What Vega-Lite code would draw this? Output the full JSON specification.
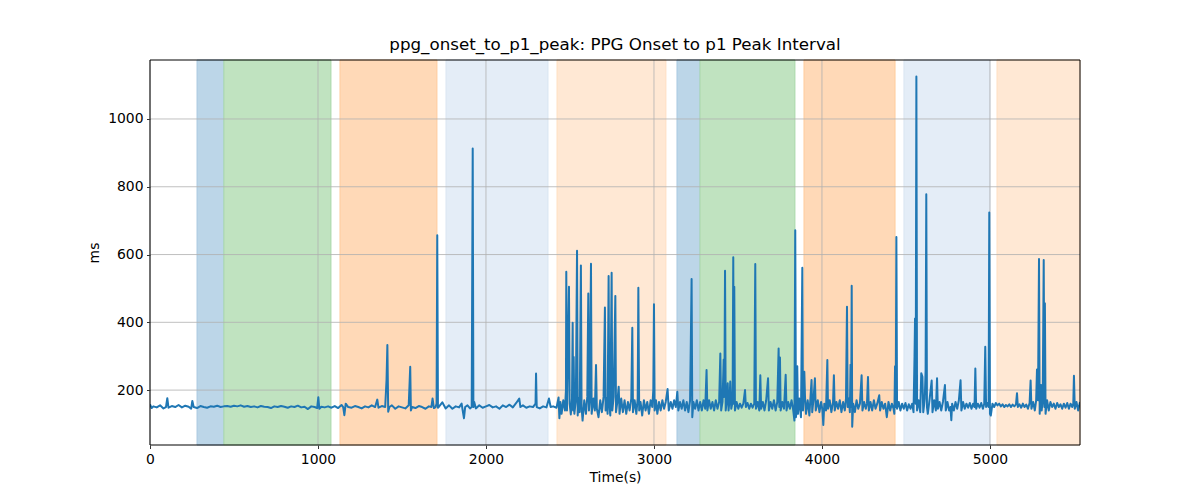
{
  "$schema": "https://vega.github.io/schema/vega-lite/v6.json",
  "autosize": {"type": "none"},
  "width": 930,
  "height": 385,
  "padding": {"left": 150, "top": 60, "right": 120, "bottom": 55},
  "background": "white",
  "config": {
    "font": "DejaVu Sans",
    "view": {"stroke": null},
    "axis": {
      "grid": false,
      "domain": false,
      "tickColor": "black",
      "tickSize": 3.5,
      "tickWidth": 0.8,
      "labelFontSize": 13.9,
      "labelColor": "black",
      "labelPadding": 3.5,
      "labelFlush": false,
      "titleFontSize": 13.9,
      "titleFontWeight": "normal",
      "titleColor": "black"
    },
    "title": {"fontSize": 16.7, "fontWeight": "normal", "color": "black", "offset": 6}
  },
  "title": "ppg_onset_to_p1_peak: PPG Onset to p1 Peak Interval",
  "datasets": {
    "bands": [
      {"s": 280, "e": 440, "k": "A"},
      {"s": 440, "e": 1077, "k": "B"},
      {"s": 1131, "e": 1708, "k": "C"},
      {"s": 1762, "e": 2369, "k": "D"},
      {"s": 2423, "e": 3071, "k": "E"},
      {"s": 3137, "e": 3274, "k": "A"},
      {"s": 3274, "e": 3839, "k": "B"},
      {"s": 3893, "e": 4435, "k": "C"},
      {"s": 4488, "e": 5000, "k": "D"},
      {"s": 5042, "e": 5536, "k": "E"}
    ],
    "frame": [{"x0": 0, "x1": 5536, "y0": 38, "y1": 1174}],
    "gx": [{"x": 0}, {"x": 1000}, {"x": 2000}, {"x": 3000}, {"x": 4000}, {"x": 5000}],
    "gy": [{"y": 200}, {"y": 400}, {"y": 600}, {"y": 800}, {"y": 1000}],
    "series": [
      {"t":0,"v":158},{"t":10,"v":147},{"t":20,"v":152},{"t":40,"v":149},{"t":60,"v":155},{"t":80,"v":146},{"t":95,"v":150},{"t":103,"v":176},{"t":110,"v":148},{"t":130,"v":153},{"t":150,"v":150},{"t":170,"v":156},{"t":190,"v":149},{"t":210,"v":154},{"t":230,"v":151},{"t":245,"v":145},{"t":252,"v":168},{"t":260,"v":150},{"t":280,"v":147},{"t":300,"v":153},{"t":320,"v":150},{"t":340,"v":148},{"t":360,"v":152},{"t":380,"v":151},{"t":400,"v":154},{"t":420,"v":150},{"t":440,"v":152},{"t":460,"v":153},{"t":480,"v":151},{"t":500,"v":154},{"t":520,"v":152},{"t":540,"v":155},{"t":560,"v":151},{"t":580,"v":153},{"t":600,"v":150},{"t":620,"v":152},{"t":640,"v":149},{"t":660,"v":153},{"t":680,"v":151},{"t":700,"v":150},{"t":720,"v":147},{"t":740,"v":152},{"t":760,"v":150},{"t":780,"v":153},{"t":800,"v":151},{"t":820,"v":148},{"t":840,"v":152},{"t":860,"v":150},{"t":880,"v":154},{"t":900,"v":149},{"t":920,"v":151},{"t":940,"v":144},{"t":960,"v":152},{"t":980,"v":150},{"t":995,"v":147},{"t":1002,"v":179},{"t":1008,"v":145},{"t":1020,"v":151},{"t":1040,"v":149},{"t":1060,"v":152},{"t":1080,"v":148},{"t":1100,"v":153},{"t":1120,"v":147},{"t":1140,"v":156},{"t":1150,"v":150},{"t":1157,"v":126},{"t":1165,"v":160},{"t":1180,"v":150},{"t":1200,"v":148},{"t":1220,"v":153},{"t":1240,"v":150},{"t":1260,"v":146},{"t":1280,"v":152},{"t":1300,"v":149},{"t":1320,"v":155},{"t":1340,"v":150},{"t":1353,"v":172},{"t":1360,"v":148},{"t":1380,"v":153},{"t":1400,"v":150},{"t":1408,"v":230},{"t":1413,"v":333},{"t":1418,"v":136},{"t":1425,"v":150},{"t":1440,"v":155},{"t":1460,"v":145},{"t":1480,"v":152},{"t":1500,"v":149},{"t":1520,"v":146},{"t":1540,"v":155},{"t":1546,"v":230},{"t":1549,"v":269},{"t":1553,"v":140},{"t":1560,"v":150},{"t":1580,"v":147},{"t":1600,"v":153},{"t":1620,"v":150},{"t":1640,"v":145},{"t":1660,"v":152},{"t":1675,"v":150},{"t":1682,"v":175},{"t":1690,"v":147},{"t":1700,"v":150},{"t":1706,"v":160},{"t":1710,"v":657},{"t":1714,"v":148},{"t":1720,"v":151},{"t":1740,"v":164},{"t":1760,"v":146},{"t":1780,"v":155},{"t":1800,"v":145},{"t":1820,"v":152},{"t":1840,"v":149},{"t":1855,"v":160},{"t":1862,"v":138},{"t":1869,"v":117},{"t":1876,"v":150},{"t":1890,"v":155},{"t":1905,"v":146},{"t":1915,"v":150},{"t":1921,"v":913},{"t":1925,"v":150},{"t":1930,"v":165},{"t":1940,"v":146},{"t":1960,"v":155},{"t":1980,"v":148},{"t":2000,"v":152},{"t":2020,"v":156},{"t":2040,"v":149},{"t":2060,"v":152},{"t":2080,"v":145},{"t":2100,"v":155},{"t":2120,"v":150},{"t":2140,"v":157},{"t":2160,"v":149},{"t":2180,"v":162},{"t":2198,"v":175},{"t":2205,"v":150},{"t":2220,"v":155},{"t":2240,"v":148},{"t":2260,"v":152},{"t":2280,"v":150},{"t":2295,"v":160},{"t":2298,"v":249},{"t":2302,"v":150},{"t":2320,"v":146},{"t":2340,"v":152},{"t":2360,"v":149},{"t":2375,"v":175},{"t":2385,"v":150},{"t":2400,"v":152},{"t":2420,"v":148},{"t":2432,"v":178},{"t":2437,"v":117},{"t":2443,"v":165},
      {"t":2450,"v":130},{"t":2460,"v":170},{"t":2470,"v":140},{"t":2476,"v":200},{"t":2478,"v":549},{"t":2482,"v":140},{"t":2494,"v":505},{"t":2498,"v":160},{"t":2505,"v":128},{"t":2512,"v":175},{"t":2516,"v":399},{"t":2519,"v":140},{"t":2522,"v":298},{"t":2526,"v":130},{"t":2535,"v":170},{"t":2542,"v":611},{"t":2546,"v":125},{"t":2552,"v":175},{"t":2558,"v":135},{"t":2565,"v":568},{"t":2569,"v":150},{"t":2575,"v":110},{"t":2585,"v":170},{"t":2595,"v":130},{"t":2603,"v":180},{"t":2609,"v":485},{"t":2613,"v":140},{"t":2618,"v":170},{"t":2625,"v":573},{"t":2629,"v":130},{"t":2640,"v":175},{"t":2648,"v":140},{"t":2655,"v":274},{"t":2660,"v":145},{"t":2670,"v":120},{"t":2680,"v":170},{"t":2690,"v":135},{"t":2700,"v":180},{"t":2708,"v":444},{"t":2712,"v":140},{"t":2718,"v":175},{"t":2724,"v":130},{"t":2730,"v":537},{"t":2734,"v":160},{"t":2740,"v":125},{"t":2748,"v":546},{"t":2752,"v":140},{"t":2760,"v":180},{"t":2770,"v":478},{"t":2774,"v":135},{"t":2782,"v":165},{"t":2790,"v":210},{"t":2795,"v":130},{"t":2805,"v":175},{"t":2815,"v":135},{"t":2825,"v":170},{"t":2835,"v":130},{"t":2845,"v":165},{"t":2855,"v":140},{"t":2865,"v":175},{"t":2871,"v":384},{"t":2875,"v":135},{"t":2885,"v":170},{"t":2895,"v":130},{"t":2903,"v":175},{"t":2907,"v":502},{"t":2912,"v":140},{"t":2920,"v":165},{"t":2930,"v":125},{"t":2940,"v":170},{"t":2950,"v":140},{"t":2960,"v":165},{"t":2970,"v":130},{"t":2980,"v":170},{"t":2990,"v":150},{"t":2996,"v":200},{"t":3000,"v":453},{"t":3004,"v":140},{"t":3012,"v":170},{"t":3020,"v":130},{"t":3030,"v":165},{"t":3040,"v":140},{"t":3050,"v":170},{"t":3060,"v":145},{"t":3070,"v":165},{"t":3081,"v":203},{"t":3088,"v":140},{"t":3100,"v":165},{"t":3110,"v":145},{"t":3120,"v":170},{"t":3130,"v":150},{"t":3139,"v":195},{"t":3145,"v":140},{"t":3155,"v":165},{"t":3165,"v":145},{"t":3175,"v":170},{"t":3185,"v":140},{"t":3195,"v":165},{"t":3205,"v":135},{"t":3215,"v":170},{"t":3224,"v":528},{"t":3228,"v":120},{"t":3235,"v":165},{"t":3245,"v":145},{"t":3255,"v":170},{"t":3265,"v":140},{"t":3275,"v":165},{"t":3285,"v":140},{"t":3295,"v":170},{"t":3305,"v":145},{"t":3313,"v":259},{"t":3318,"v":140},{"t":3328,"v":170},{"t":3338,"v":145},{"t":3348,"v":165},{"t":3358,"v":140},{"t":3368,"v":170},{"t":3378,"v":145},{"t":3388,"v":165},{"t":3395,"v":308},{"t":3400,"v":140},{"t":3408,"v":165},{"t":3415,"v":290},{"t":3419,"v":180},{"t":3423,"v":552},{"t":3427,"v":140},{"t":3434,"v":170},{"t":3439,"v":220},{"t":3444,"v":140},{"t":3450,"v":170},{"t":3454,"v":225},{"t":3460,"v":145},{"t":3468,"v":165},{"t":3472,"v":592},{"t":3475,"v":160},{"t":3478,"v":505},{"t":3482,"v":140},{"t":3492,"v":165},{"t":3502,"v":145},{"t":3512,"v":160},{"t":3522,"v":148},{"t":3532,"v":160},{"t":3542,"v":200},{"t":3547,"v":150},{"t":3557,"v":162},{"t":3567,"v":145},{"t":3577,"v":160},{"t":3587,"v":148},{"t":3597,"v":160},{"t":3603,"v":572},{"t":3607,"v":145},{"t":3617,"v":165},{"t":3627,"v":140},{"t":3633,"v":244},{"t":3638,"v":145},{"t":3648,"v":165},{"t":3658,"v":140},{"t":3668,"v":170},{"t":3679,"v":235},{"t":3684,"v":140},{"t":3694,"v":165},{"t":3704,"v":145},{"t":3714,"v":170},{"t":3724,"v":140},{"t":3734,"v":165},{"t":3742,"v":323},{"t":3746,"v":150},{"t":3750,"v":296},{"t":3754,"v":140},{"t":3764,"v":165},{"t":3774,"v":145},{"t":3784,"v":245},{"t":3789,"v":140},{"t":3799,"v":165},{"t":3809,"v":145},{"t":3819,"v":170},{"t":3829,"v":140},{"t":3836,"v":110},{"t":3841,"v":672},{"t":3845,"v":120},{"t":3849,"v":140},{"t":3853,"v":270},{"t":3857,"v":130},{"t":3865,"v":175},{"t":3875,"v":120},{"t":3883,"v":561},{"t":3887,"v":140},{"t":3895,"v":254},{"t":3899,"v":180},{"t":3905,"v":130},{"t":3915,"v":170},{"t":3925,"v":125},{"t":3938,"v":230},{"t":3942,"v":135},{"t":3950,"v":175},{"t":3958,"v":235},{"t":3963,"v":140},{"t":3975,"v":170},{"t":3985,"v":135},{"t":3995,"v":165},{"t":4003,"v":140},{"t":4008,"v":97},{"t":4014,"v":160},{"t":4024,"v":140},{"t":4032,"v":289},{"t":4036,"v":145},{"t":4046,"v":170},{"t":4056,"v":135},{"t":4066,"v":165},{"t":4071,"v":244},{"t":4076,"v":140},{"t":4086,"v":165},{"t":4096,"v":145},{"t":4106,"v":170},{"t":4116,"v":135},{"t":4126,"v":165},{"t":4136,"v":140},{"t":4143,"v":175},{"t":4149,"v":446},{"t":4153,"v":150},{"t":4160,"v":175},{"t":4166,"v":135},{"t":4170,"v":275},{"t":4174,"v":150},{"t":4177,"v":508},{"t":4180,"v":92},{"t":4186,"v":160},{"t":4196,"v":135},{"t":4206,"v":170},{"t":4216,"v":145},{"t":4226,"v":160},{"t":4236,"v":244},{"t":4241,"v":140},{"t":4251,"v":165},{"t":4261,"v":145},{"t":4268,"v":160},{"t":4274,"v":239},{"t":4279,"v":140},{"t":4289,"v":165},{"t":4299,"v":140},{"t":4309,"v":170},{"t":4319,"v":145},{"t":4329,"v":160},{"t":4341,"v":185},{"t":4346,"v":140},{"t":4356,"v":165},{"t":4366,"v":145},{"t":4376,"v":160},{"t":4386,"v":120},{"t":4396,"v":165},{"t":4406,"v":140},{"t":4416,"v":160},{"t":4426,"v":145},{"t":4431,"v":130},{"t":4435,"v":270},{"t":4439,"v":150},{"t":4443,"v":652},{"t":4447,"v":145},{"t":4457,"v":165},{"t":4467,"v":140},{"t":4477,"v":160},{"t":4487,"v":145},{"t":4497,"v":162},{"t":4507,"v":140},{"t":4517,"v":158},{"t":4527,"v":145},{"t":4537,"v":160},{"t":4545,"v":135},{"t":4551,"v":300},{"t":4554,"v":411},{"t":4558,"v":160},{"t":4562,"v":1125},{"t":4566,"v":140},{"t":4575,"v":170},{"t":4585,"v":135},{"t":4591,"v":250},{"t":4598,"v":239},{"t":4603,"v":135},{"t":4612,"v":175},{"t":4617,"v":260},{"t":4621,"v":778},{"t":4625,"v":150},{"t":4630,"v":130},{"t":4640,"v":170},{"t":4653,"v":228},{"t":4658,"v":135},{"t":4668,"v":170},{"t":4678,"v":140},{"t":4685,"v":235},{"t":4690,"v":145},{"t":4700,"v":165},{"t":4710,"v":140},{"t":4720,"v":165},{"t":4732,"v":215},{"t":4737,"v":140},{"t":4747,"v":165},{"t":4757,"v":140},{"t":4765,"v":150},{"t":4770,"v":111},{"t":4775,"v":160},{"t":4785,"v":140},{"t":4795,"v":165},{"t":4805,"v":145},{"t":4815,"v":170},{"t":4825,"v":229},{"t":4830,"v":140},{"t":4840,"v":165},{"t":4850,"v":145},{"t":4860,"v":160},{"t":4870,"v":148},{"t":4880,"v":162},{"t":4890,"v":145},{"t":4900,"v":160},{"t":4908,"v":150},{"t":4913,"v":264},{"t":4918,"v":145},{"t":4928,"v":160},{"t":4938,"v":148},{"t":4948,"v":162},{"t":4958,"v":145},{"t":4966,"v":160},{"t":4972,"v":328},{"t":4977,"v":150},{"t":4985,"v":162},{"t":4992,"v":150},{"t":4996,"v":724},{"t":5000,"v":130},{"t":5005,"v":125},{"t":5015,"v":160},{"t":5025,"v":150},{"t":5035,"v":162},{"t":5045,"v":155},{"t":5055,"v":160},{"t":5065,"v":152},{"t":5075,"v":158},{"t":5085,"v":150},{"t":5095,"v":156},{"t":5105,"v":152},{"t":5115,"v":158},{"t":5125,"v":150},{"t":5135,"v":157},{"t":5145,"v":152},{"t":5155,"v":158},{"t":5161,"v":191},{"t":5166,"v":150},{"t":5176,"v":158},{"t":5186,"v":148},{"t":5196,"v":160},{"t":5206,"v":150},{"t":5216,"v":157},{"t":5226,"v":145},{"t":5236,"v":162},{"t":5242,"v":228},{"t":5247,"v":145},{"t":5257,"v":165},{"t":5267,"v":140},{"t":5275,"v":170},{"t":5280,"v":261},{"t":5286,"v":170},{"t":5292,"v":587},{"t":5296,"v":130},{"t":5300,"v":165},{"t":5304,"v":215},{"t":5308,"v":140},{"t":5314,"v":170},{"t":5320,"v":584},{"t":5324,"v":150},{"t":5327,"v":456},{"t":5331,"v":130},{"t":5340,"v":170},{"t":5350,"v":140},{"t":5360,"v":165},{"t":5370,"v":150},{"t":5380,"v":160},{"t":5390,"v":145},{"t":5400,"v":162},{"t":5410,"v":150},{"t":5420,"v":158},{"t":5430,"v":145},{"t":5440,"v":160},{"t":5450,"v":148},{"t":5460,"v":162},{"t":5470,"v":145},{"t":5480,"v":160},{"t":5490,"v":150},{"t":5496,"v":160},{"t":5500,"v":242},{"t":5505,"v":145},{"t":5515,"v":165},{"t":5525,"v":140},{"t":5536,"v":165}
    ]
  },
  "resolve": {"scale": {"fill": "independent", "stroke": "independent"}},
  "layer": [
    {
      "data": {"name": "bands"},
      "mark": {"type": "rect", "strokeWidth": 1},
      "encoding": {
        "x": {"field": "s", "type": "quantitative", "scale": {"domain": [0, 5536], "nice": false, "zero": false}, "axis": {"title": "Time(s)", "values": [0, 1000, 2000, 3000, 4000, 5000], "format": "d", "titlePadding": 5}},
        "x2": {"field": "e"},
        "y": {"value": 0},
        "y2": {"value": 385},
        "fill": {"field": "k", "type": "nominal", "legend": null, "scale": {"domain": ["A", "B", "C", "D", "E"], "range": ["#bcd6e8", "#c0e3c0", "#ffd9b7", "#e4edf7", "#ffe8d4"]}},
        "stroke": {"field": "k", "type": "nominal", "legend": null, "scale": {"domain": ["A", "B", "C", "D", "E"], "range": ["#a9c9e2", "#a9d8a9", "#ffcc9d", "#d9e5f2", "#ffdfc2"]}}
      }
    },
    {
      "data": {"name": "gx"},
      "mark": {"type": "rule", "color": "#b0b0b0", "strokeWidth": 0.8},
      "encoding": {
        "x": {"field": "x", "type": "quantitative"}
      }
    },
    {
      "data": {"name": "gy"},
      "mark": {"type": "rule", "color": "#b0b0b0", "strokeWidth": 0.8},
      "encoding": {
        "y": {"field": "y", "type": "quantitative"}
      }
    },
    {
      "data": {"name": "series"},
      "mark": {"type": "line", "color": "#1f77b4", "strokeWidth": 2, "strokeJoin": "round", "clip": true},
      "encoding": {
        "x": {"field": "t", "type": "quantitative"},
        "y": {"field": "v", "type": "quantitative", "scale": {"domain": [38, 1174], "nice": false, "zero": false}, "axis": {"title": "ms", "values": [200, 400, 600, 800, 1000], "format": "d", "titlePadding": 6}}
      }
    },
    {
      "data": {"name": "frame"},
      "mark": {"type": "rect", "fill": null, "stroke": "black", "strokeWidth": 1},
      "encoding": {
        "x": {"field": "x0", "type": "quantitative"},
        "x2": {"field": "x1"},
        "y": {"field": "y0", "type": "quantitative"},
        "y2": {"field": "y1"}
      }
    }
  ]
}
